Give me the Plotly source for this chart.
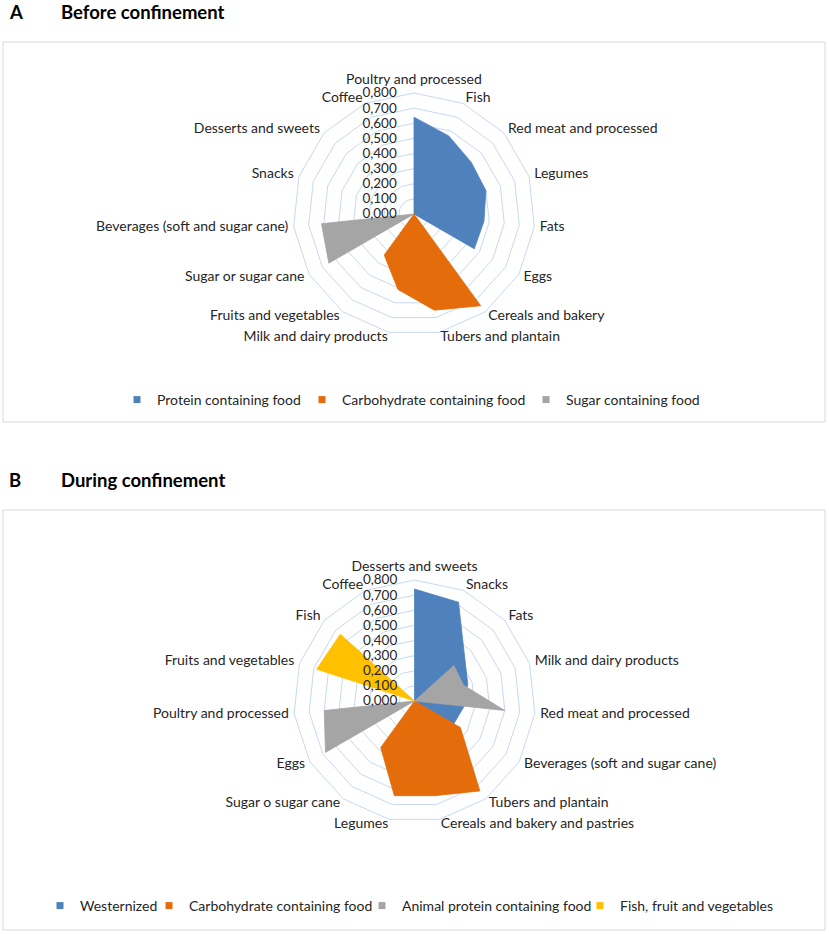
import plotly.graph_objects as go

# ---------------- Data ----------------
categories_a = ["Poultry and processed", "Fish", "Red meat and processed", "Legumes", "Fats",
                "Eggs", "Cereals and bakery", "Tubers and plantain", "Milk and dairy products",
                "Fruits and vegetables", "Sugar or sugar cane", "Beverages (soft and sugar cane)",
                "Snacks", "Desserts and sweets", "Coffee"]
protein_a = [0.64, 0.565, 0.51, 0.50, 0.465, 0.46, 0, 0, 0, 0, 0, 0, 0, 0, 0]
carb_a = [0, 0, 0, 0, 0, 0, 0.75, 0.65, 0.51, 0.335, 0, 0, 0, 0, 0]
sugar_a = [0, 0, 0, 0, 0, 0, 0, 0, 0, 0, 0.65, 0.615, 0, 0, 0]

categories_b = ["Desserts and sweets", "Snacks", "Fats", "Milk and dairy products",
                "Red meat and processed", "Beverages (soft and sugar cane)", "Tubers and plantain",
                "Cereals and bakery and pastries", "Legumes", "Sugar o sugar cane", "Eggs",
                "Poultry and processed", "Fruits and vegetables", "Fish", "Coffee"]
western_b = [0.74, 0.715, 0.445, 0.37, 0.33, 0.30, 0, 0, 0, 0, 0, 0, 0, 0, 0]
carb_b = [0, 0, 0, 0, 0, 0.35, 0.735, 0.64, 0.64, 0.38, 0, 0, 0, 0, 0]
animal_b = [0, 0, 0.35, 0.34, 0.60, 0, 0, 0, 0, 0, 0.68, 0.60, 0, 0, 0]
fish_b = [0, 0, 0, 0, 0, 0, 0, 0, 0, 0, 0, 0, 0.68, 0.66, 0]

radial_ticks = [0, 0.1, 0.2, 0.3, 0.4, 0.5, 0.6, 0.7, 0.8]

BLUE = "#4F81BD"
ORANGE = "#E46C0A"
GRAY = "#A5A5A5"
YELLOW = "#FFC000"
GRID = "#C6D9F1"
FONT = "Lato"
TXT = "#262626"

W, H = 829, 934
R_PX = 121          # pixel radius of the outer ring
CENTER_A = (414, 214)
CENTER_B = (414.5, 701)
LABEL_PAD = 1.045   # category labels sit just outside the outer ring
LABEL_SCALE = 1.1   # label subplot is a slightly larger, invisible twin


def px(x):
    return x / W


def py(y):
    return 1 - y / H


fig = go.Figure()
legend_specs = []  # (legend id, text start x in px, y in px)


def add_series(cats, vals, name, color, subplot, legend, text_x, legend_y):
    fig.add_trace(go.Scatterpolar(
        r=vals + vals[:1], theta=cats + cats[:1], mode="lines", fill="toself",
        fillcolor=color, line=dict(color=color, width=0.8), name=name,
        showlegend=False, subplot=subplot, hoverinfo="skip"))
    fig.add_trace(go.Scatterpolar(
        r=[None], theta=[cats[0]], mode="markers", name=name,
        marker=dict(symbol="square", size=7, color=color),
        showlegend=True, subplot=subplot, legend=legend, hoverinfo="skip"))
    legend_specs.append((legend, text_x, legend_y))


def add_labels(cats, subplot):
    n = len(cats)
    positions = []
    for i in range(n):
        ang = 360.0 * i / n
        if ang == 0:
            positions.append("top center")
        elif ang < 180:
            positions.append("middle right")
        elif ang == 180:
            positions.append("bottom center")
        else:
            positions.append("middle left")
    fig.add_trace(go.Scatterpolar(
        r=[max(radial_ticks) * LABEL_PAD] * n, theta=cats, mode="text", text=cats,
        textposition=positions, textfont=dict(family=FONT, size=14, color=TXT),
        showlegend=False, subplot=subplot, hoverinfo="skip", cliponaxis=False))


add_series(categories_a, protein_a, "Protein containing food", BLUE, "polar", "legend", 157, 400)
add_series(categories_a, carb_a, "Carbohydrate containing food", ORANGE, "polar", "legend2", 342, 400)
add_series(categories_a, sugar_a, "Sugar containing food", GRAY, "polar", "legend3", 566, 400)
add_labels(categories_a, "polar3")

add_series(categories_b, western_b, "Westernized", BLUE, "polar2", "legend4", 80, 906)
add_series(categories_b, carb_b, "Carbohydrate containing food", ORANGE, "polar2", "legend5", 189, 906)
add_series(categories_b, animal_b, "Animal protein containing food", GRAY, "polar2", "legend6", 402, 906)
add_series(categories_b, fish_b, "Fish, fruit and vegetables", YELLOW, "polar2", "legend7", 620, 906)
add_labels(categories_b, "polar4")


def px_dom(cx, cy, r):
    return dict(x=[px(cx - r), px(cx + r)], y=[py(cy + r), py(cy - r)])


def polar_layout(cats, center):
    return dict(
        domain=px_dom(center[0], center[1], R_PX),
        gridshape="linear",
        bgcolor="white",
        radialaxis=dict(range=[0, max(radial_ticks)], tickvals=radial_ticks, tickformat=".3f",
                        angle=90, side="counterclockwise", tickangle=90,
                        showline=False, ticks="outside", ticklen=12,
                        tickcolor="rgba(0,0,0,0)", gridcolor=GRID, gridwidth=1,
                        tickfont=dict(family=FONT, size=13.5, color=TXT)),
        angularaxis=dict(type="category", categoryarray=cats, rotation=90,
                         direction="clockwise", showgrid=False, showline=True,
                         linecolor=GRID, linewidth=1, ticks="", showticklabels=False),
    )


def label_polar_layout(cats, center):
    return dict(
        domain=px_dom(center[0], center[1], R_PX * LABEL_SCALE),
        gridshape="linear",
        bgcolor="rgba(0,0,0,0)",
        radialaxis=dict(range=[0, max(radial_ticks) * LABEL_SCALE], visible=False,
                        showgrid=False),
        angularaxis=dict(type="category", categoryarray=cats, rotation=90,
                         direction="clockwise", showgrid=False, showline=False,
                         ticks="", showticklabels=False),
    )


legends = {}
for lid, tx, ly in legend_specs:
    legends[lid] = dict(orientation="h", xanchor="left", yanchor="middle",
                        x=px(tx - 40), y=py(ly),
                        font=dict(family=FONT, size=14, color=TXT),
                        bgcolor="rgba(0,0,0,0)", itemwidth=30, tracegroupgap=0)

TITLE_FONT = dict(family=FONT, size=18.5, color="black")

fig.update_layout(
    width=W, height=H, margin=dict(l=0, r=0, t=0, b=0),
    paper_bgcolor="white", plot_bgcolor="white",
    separators=",.",
    polar=polar_layout(categories_a, CENTER_A),
    polar2=polar_layout(categories_b, CENTER_B),
    polar3=label_polar_layout(categories_a, CENTER_A),
    polar4=label_polar_layout(categories_b, CENTER_B),
    shapes=[
        dict(type="rect", xref="paper", yref="paper", x0=px(3), x1=px(825),
             y0=py(422), y1=py(42), line=dict(color="#D9D9D9", width=1)),
        dict(type="rect", xref="paper", yref="paper", x0=px(3), x1=px(825),
             y0=py(930), y1=py(510), line=dict(color="#D9D9D9", width=1)),
    ],
    annotations=[
        dict(text="<b>A</b>", x=px(7), y=py(12), xref="paper", yref="paper",
             xanchor="left", yanchor="middle", showarrow=False, font=TITLE_FONT),
        dict(text="<b>Before confinement</b>", x=px(59), y=py(12), xref="paper",
             yref="paper", xanchor="left", yanchor="middle", showarrow=False, font=TITLE_FONT),
        dict(text="<b>B</b>", x=px(7), y=py(480), xref="paper", yref="paper",
             xanchor="left", yanchor="middle", showarrow=False, font=TITLE_FONT),
        dict(text="<b>During confinement</b>", x=px(59), y=py(480), xref="paper",
             yref="paper", xanchor="left", yanchor="middle", showarrow=False, font=TITLE_FONT),
    ],
    **legends,
)

fig.write_html("out.html", config={"displayModeBar": False},
               post_script="document.body.style.margin='0';document.body.style.overflow='hidden';")
